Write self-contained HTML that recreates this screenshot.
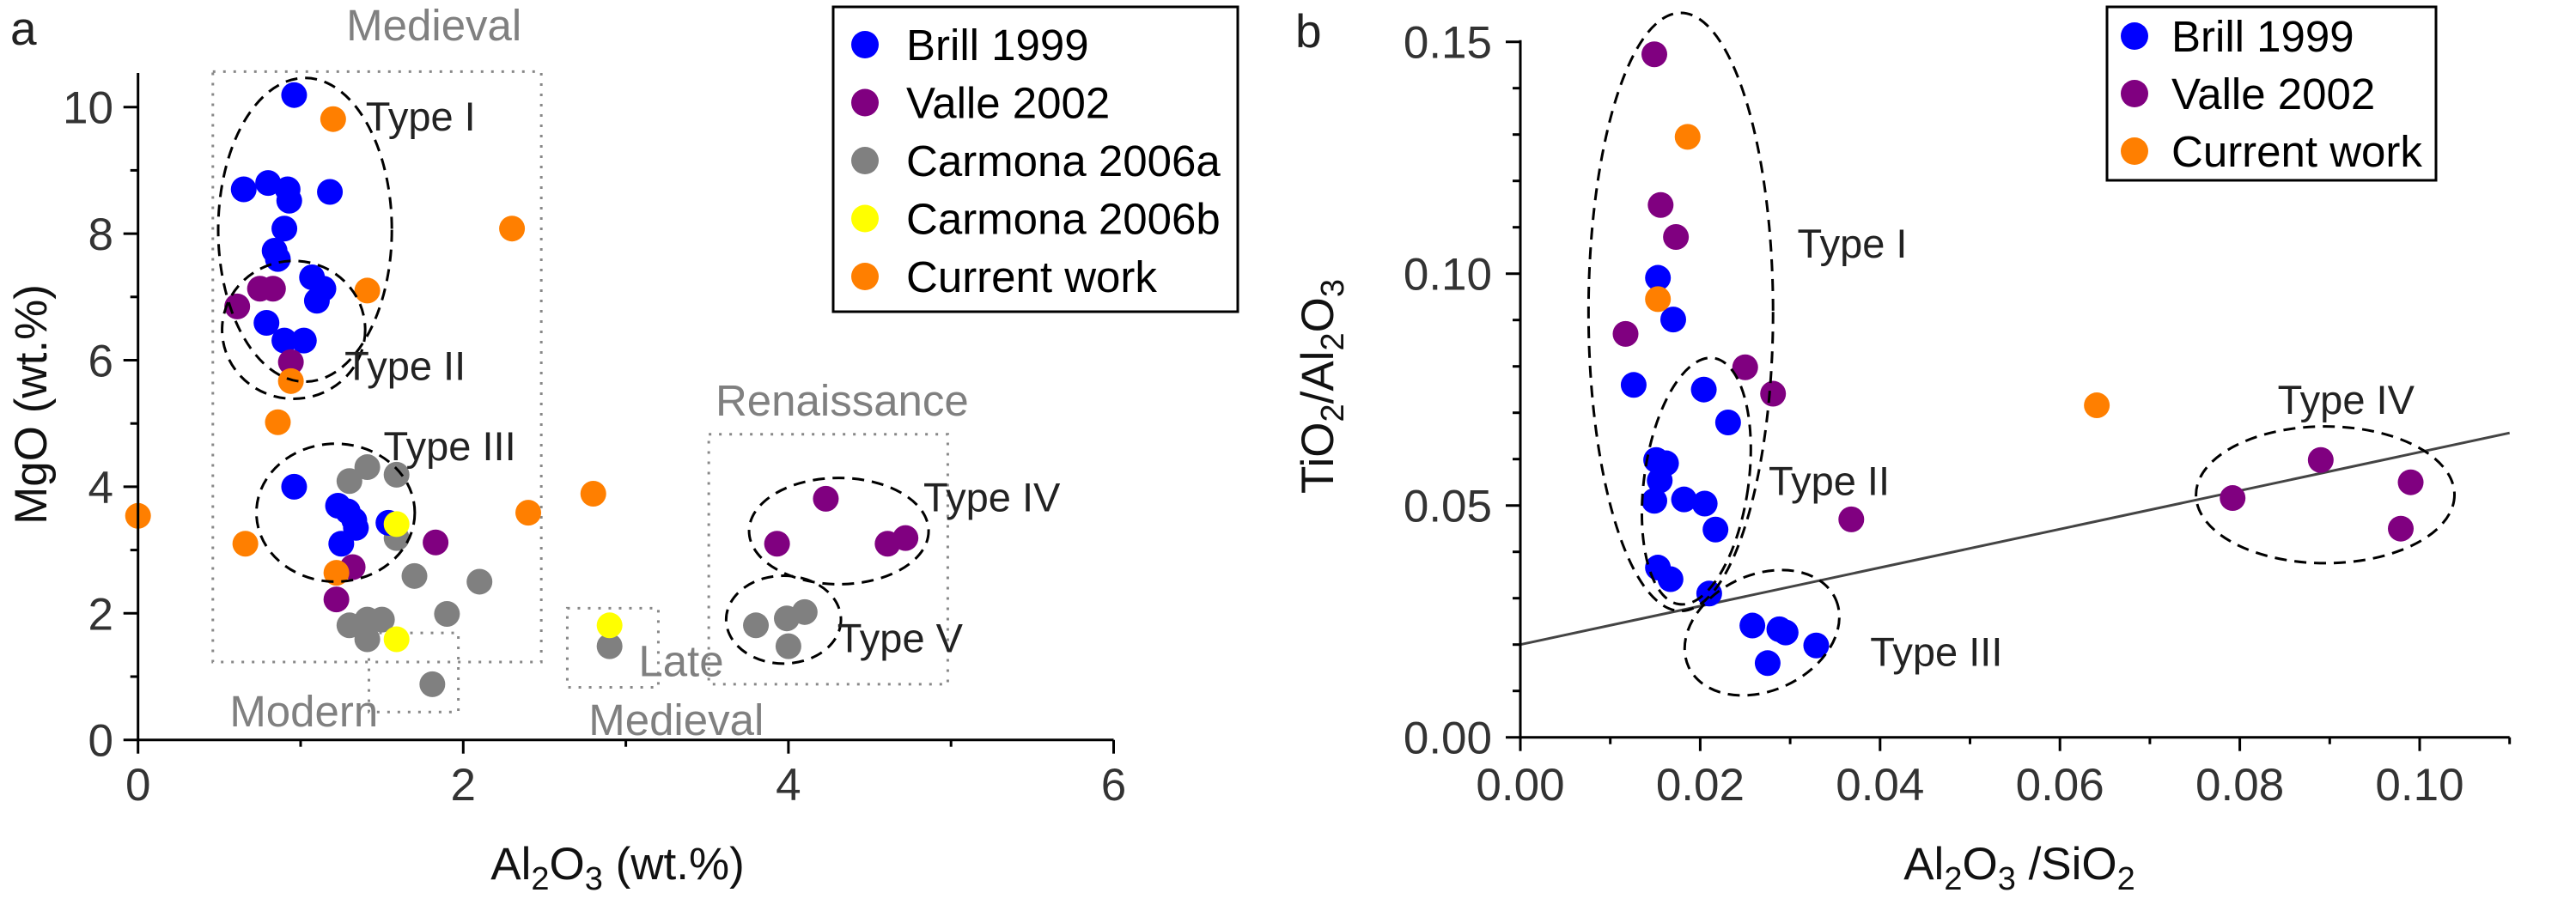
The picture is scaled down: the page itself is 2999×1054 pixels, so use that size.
<!DOCTYPE html>
<html><head><meta charset="utf-8"><style>
html,body{margin:0;padding:0;background:#fff;}
svg{display:block;font-family:"Liberation Sans",Arial,sans-serif;}
</style></head><body>
<svg id="fig" width="2999" height="1054" viewBox="0 0 2999 1054" xmlns="http://www.w3.org/2000/svg">
<g id="pa"></g>
<g id="pb"></g>
</svg>
<script>
// ---------- Panel a data ----------
const brillA_x=[0.96,0.65,0.80,0.92,0.93,1.18,0.90,0.84,0.86,1.07,1.14,1.10,0.79,0.90,1.02,0.96,1.23,1.29,1.33,1.34,1.25,1.54];
const brillA_y=[10.19,8.70,8.80,8.70,8.52,8.66,8.08,7.73,7.60,7.31,7.13,6.94,6.59,6.31,6.31,4.00,3.70,3.61,3.47,3.35,3.10,3.43];
const valleA_x=[0.61,0.75,0.83,0.94,1.83,1.32,1.22,3.93,4.23,4.61,4.72];
const valleA_y=[6.85,7.13,7.13,5.97,3.12,2.73,2.22,3.10,3.81,3.10,3.19];
const carmA_x=[1.30,1.41,1.59,1.59,1.70,2.10,1.90,1.30,1.41,1.50,1.41,1.81,2.90,3.80,3.99,4.10,4.00];
const carmA_y=[4.09,4.31,4.19,3.19,2.59,2.50,1.99,1.81,1.90,1.90,1.59,0.88,1.48,1.81,1.92,2.02,1.48];
const carmB_x=[1.59,1.59,2.90];
const carmB_y=[3.41,1.59,1.81];
const currA_x=[1.20,2.30,1.41,0.94,0.86,0.00,0.66,2.80,2.40,1.22];
const currA_y=[9.81,8.08,7.10,5.67,5.02,3.54,3.10,3.89,3.59,2.64];
const xTicksA=[0,2,4,6];
const yTicksA=[0,2,4,6,8,10];

// ---------- Panel b data ----------
const brillB_x=[0.0153,0.0170,0.0126,0.0204,0.0231,0.0151,0.0162,0.0155,0.0149,0.0182,0.0205,0.0217,0.0153,0.0167,0.0210,0.0258,0.0288,0.0295,0.0329,0.0275];
const brillB_y=[0.0991,0.0901,0.0760,0.0750,0.0679,0.0598,0.0591,0.0554,0.0510,0.0513,0.0504,0.0448,0.0366,0.0341,0.0310,0.0241,0.0233,0.0226,0.0198,0.0160];
const valleB_x=[0.0149,0.0156,0.0173,0.0117,0.0250,0.0281,0.0368,0.0792,0.0890,0.0990,0.0979];
const valleB_y=[0.1473,0.1148,0.1079,0.0870,0.0798,0.0741,0.0470,0.0516,0.0598,0.0550,0.0450];
const currB_x=[0.0186,0.0153,0.0641];
const currB_y=[0.1295,0.0945,0.0716];
const xTicksB=["0.00","0.02","0.04","0.06","0.08","0.10"];
const yTicksB=["0.00","0.05","0.10","0.15"];
const lineB_intercept=0.020;
const lineB_slope=0.415;

const NS="http://www.w3.org/2000/svg";
function mk(parent,tag,attrs,text){
  const e=document.createElementNS(NS,tag);
  for(const k in attrs)e.setAttribute(k,attrs[k]);
  if(text!==undefined)e.textContent=text;
  parent.appendChild(e);return e;
}
const C={blue:"#0000ff",purple:"#800080",gray:"#808080",yellow:"#ffff00",orange:"#ff7f00"};

// ---- Panel a ----
const pa=document.getElementById('pa');
const ax=v=>160.7+v*189.3, ay=v=>861.7-v*73.7;
function boxA(x0,x1,y0,y1,name){
  const r=mk(pa,'rect',{x:ax(x0),y:ay(y1),width:ax(x1)-ax(x0),height:ay(y0)-ay(y1),fill:'none',stroke:'#888','stroke-width':3,'stroke-dasharray':'3 9'});
  
  
}
boxA(0.46,2.48,1.23,10.56,'medieval-box');
boxA(1.42,1.97,0.44,1.69,'modern-box');
boxA(2.64,3.20,0.83,2.08,'late-medieval-box');
boxA(3.51,4.98,0.88,4.83,'renaissance-box');
function ellA(cx,cy,rx,ry,rot,name){
  const e=mk(pa,'ellipse',{cx:ax(cx),cy:ay(cy),rx:rx*189.3,ry:ry*73.7,fill:'none',stroke:'#000','stroke-width':3,'stroke-dasharray':'14 9',transform:`rotate(${rot} ${ax(cx)} ${ay(cy)})`});
  
  
}
function dotsA(xs,ys,col,name){
  const g=mk(pa,'g',{});
  
  
  xs.forEach((v,i)=>{const c=mk(g,'circle',{cx:ax(v),cy:ay(ys[i]),r:15,fill:col});
    
    });
}
dotsA(carmA_x,carmA_y,C.gray,'series-carmona-2006a');
dotsA(brillA_x,brillA_y,C.blue,'series-brill-1999');
dotsA(valleA_x,valleA_y,C.purple,'series-valle-2002');
dotsA(carmB_x,carmB_y,C.yellow,'series-carmona-2006b');
dotsA(currA_x,currA_y,C.orange,'series-current-work');
ellA(1.027,8.06,0.534,2.40,0,'type-i-ellipse');
ellA(0.957,6.48,0.44,1.09,0,'type-ii-ellipse');
ellA(1.215,3.59,0.487,1.09,0,'type-iii-ellipse');
ellA(4.31,3.30,0.552,0.84,0,'type-iv-ellipse');
ellA(3.97,1.90,0.353,0.694,0,'type-v-ellipse');
// axes
let t;
t=mk(pa,'line',{x1:160.7,y1:ay(0),x2:ax(6),y2:ay(0),stroke:'#000','stroke-width':3});

t=mk(pa,'line',{x1:160.7,y1:ay(0),x2:160.7,y2:85,stroke:'#000','stroke-width':3});

for(let v=0;v<=6;v++){mk(pa,'line',{x1:ax(v),y1:ay(0),x2:ax(v),y2:ay(0)+(v%2?8:16),stroke:'#000','stroke-width':3});}
for(let v=0;v<=10;v++){mk(pa,'line',{x1:160.7,y1:ay(v),x2:160.7-(v%2?9:17),y2:ay(v),stroke:'#000','stroke-width':3});}
xTicksA.forEach(v=>{const e=mk(pa,'text',{x:ax(v),y:932,'font-size':53,'text-anchor':'middle',fill:'#333'},String(v));
  });
yTicksA.forEach(v=>{const e=mk(pa,'text',{x:132,y:ay(v)+19,'font-size':53,'text-anchor':'end',fill:'#333'},String(v));
  });
// labels
function txt(parent,x,y,s,size,fill,name,anchor){const e=mk(parent,'text',{x:x,y:y,'font-size':size,fill:fill,'text-anchor':anchor||'start'},s);
  return e;}
txt(pa,ax(1.82),ay(11.3)+18,'Medieval',51,'#808080','medieval-label','middle');
txt(pa,ax(4.33),ay(5.37)+18,'Renaissance',51,'#808080','renaissance-label','middle');
txt(pa,ax(1.02),ay(0.46)+18,'Modern',51,'#808080','modern-label','middle');
txt(pa,ax(3.34),ay(1.25)+18,'Late',51,'#808080','late-label','middle');
txt(pa,ax(3.31),ay(0.32)+18,'Medieval',51,'#808080','late-medieval-label','middle');
txt(pa,ax(1.40),ay(9.63),'Type I',47,'#222','type-i-label');
txt(pa,ax(1.27),ay(5.69),'Type II',47,'#222','type-ii-label');
txt(pa,ax(1.51),ay(4.42),'Type III',47,'#222','type-iii-label');
txt(pa,ax(4.83),ay(3.61),'Type IV',47,'#222','type-iv-label');
txt(pa,ax(4.30),ay(1.39),'Type V',47,'#222','type-v-label');
txt(pa,12,52,'a',55,'#222','panel-a-letter');
const xt=mk(pa,'text',{x:719,y:1024,'font-size':53,'text-anchor':'middle',fill:'#111'});

xt.innerHTML='Al<tspan font-size="38" dy="12">2</tspan><tspan dy="-12">O</tspan><tspan font-size="38" dy="12">3</tspan><tspan dy="-12"> (wt.%)</tspan>';
const yt=mk(pa,'text',{x:0,y:0,'font-size':53,'text-anchor':'middle',fill:'#111',transform:'translate(54,471) rotate(-90)'},'MgO (wt.%)');

// legend a
const legA=mk(pa,'g',{});

mk(legA,'rect',{x:970,y:8,width:471,height:355,fill:'#fff',stroke:'#000','stroke-width':3});
[['Brill 1999',C.blue],['Valle 2002',C.purple],['Carmona 2006a',C.gray],['Carmona 2006b',C.yellow],['Current work',C.orange]].forEach((d,i)=>{
  const g=mk(legA,'g',{});
  
  const yy=52+i*67.5;
  mk(g,'circle',{cx:1007,cy:yy,r:16,fill:d[1]});
  mk(g,'text',{x:1055,y:yy+18,'font-size':51,fill:'#000'},d[0]);
});

// ---- Panel b ----
const pb=document.getElementById('pb');
const bx=v=>1770+v*10470, by=v=>858.7-v*5400;
function ellB(cx,cy,rx,ry,rot,name){
  const e=mk(pb,'ellipse',{cx:bx(cx),cy:by(cy),rx:rx*10470,ry:ry*5400,fill:'none',stroke:'#000','stroke-width':3,'stroke-dasharray':'14 9',transform:`rotate(${rot} ${bx(cx)} ${by(cy)})`});
  
}
t=mk(pb,'line',{x1:bx(0),y1:by(lineB_intercept),x2:bx(0.11),y2:by(lineB_intercept+lineB_slope*0.11),stroke:'#444','stroke-width':3});

function dotsB(xs,ys,col,name){
  const g=mk(pb,'g',{});
  
  xs.forEach((v,i)=>{const c=mk(g,'circle',{cx:bx(v),cy:by(ys[i]),r:15,fill:col});
    
    });
}
dotsB(brillB_x,brillB_y,C.blue,'series-b-brill-1999');
dotsB(valleB_x,valleB_y,C.purple,'series-b-valle-2002');
dotsB(currB_x,currB_y,C.orange,'series-b-current-work');
ellB(0.01784,0.09175,0.01026,0.0645,0,'type-i-ellipse-b');
ellB(0.01957,0.05525,0.0058,0.0268,8,'type-ii-ellipse-b');
ellB(0.02687,0.02256,0.0090,0.0125,-25,'type-iii-ellipse-b');
ellB(0.0895,0.0523,0.01437,0.01475,0,'type-iv-ellipse-b');
t=mk(pb,'line',{x1:1770,y1:by(0),x2:bx(0.11),y2:by(0),stroke:'#000','stroke-width':3});

t=mk(pb,'line',{x1:1770,y1:by(0),x2:1770,y2:by(0.15)-2,stroke:'#000','stroke-width':3});

for(let i=0;i<=11;i++){mk(pb,'line',{x1:bx(i*0.01),y1:by(0),x2:bx(i*0.01),y2:by(0)+(i%2?8:16),stroke:'#000','stroke-width':3});}
for(let i=0;i<=15;i++){mk(pb,'line',{x1:1770,y1:by(i*0.01),x2:1770-(i%5?9:17),y2:by(i*0.01),stroke:'#000','stroke-width':3});}
xTicksB.forEach(s=>{const e=mk(pb,'text',{x:bx(parseFloat(s)),y:932,'font-size':53,'text-anchor':'middle',fill:'#333'},s);
  });
yTicksB.forEach(s=>{const e=mk(pb,'text',{x:1737,y:by(parseFloat(s))+19,'font-size':53,'text-anchor':'end',fill:'#333'},s);
  });
txt(pb,bx(0.0308),by(0.1035),'Type I',47,'#222','type-i-label-b');
txt(pb,bx(0.0276),by(0.0523),'Type II',47,'#222','type-ii-label-b');
txt(pb,bx(0.0389),by(0.0154),'Type III',47,'#222','type-iii-label-b');
txt(pb,bx(0.0842),by(0.0698),'Type IV',47,'#222','type-iv-label-b');
txt(pb,1508,55,'b',55,'#222','panel-b-letter');
const xtb=mk(pb,'text',{x:2351,y:1024,'font-size':53,'text-anchor':'middle',fill:'#111'});

xtb.innerHTML='Al<tspan font-size="38" dy="12">2</tspan><tspan dy="-12">O</tspan><tspan font-size="38" dy="12">3</tspan><tspan dy="-12"> /SiO</tspan><tspan font-size="38" dy="12">2</tspan>';
const ytb=mk(pb,'text',{x:0,y:0,'font-size':53,'text-anchor':'middle',fill:'#111',transform:'translate(1552,450) rotate(-90)'});

ytb.innerHTML='TiO<tspan font-size="38" dy="12">2</tspan><tspan dy="-12">/Al</tspan><tspan font-size="38" dy="12">2</tspan><tspan dy="-12">O</tspan><tspan font-size="38" dy="12">3</tspan>';
const legB=mk(pb,'g',{});

mk(legB,'rect',{x:2453,y:8,width:383,height:202,fill:'#fff',stroke:'#000','stroke-width':3});
[['Brill 1999',C.blue],['Valle 2002',C.purple],['Current work',C.orange]].forEach((d,i)=>{
  const g=mk(legB,'g',{});
  
  const yy=42+i*67;
  mk(g,'circle',{cx:2485,cy:yy,r:16,fill:d[1]});
  mk(g,'text',{x:2528,y:yy+18,'font-size':51,fill:'#000'},d[0]);
});
</script>
</body></html>
